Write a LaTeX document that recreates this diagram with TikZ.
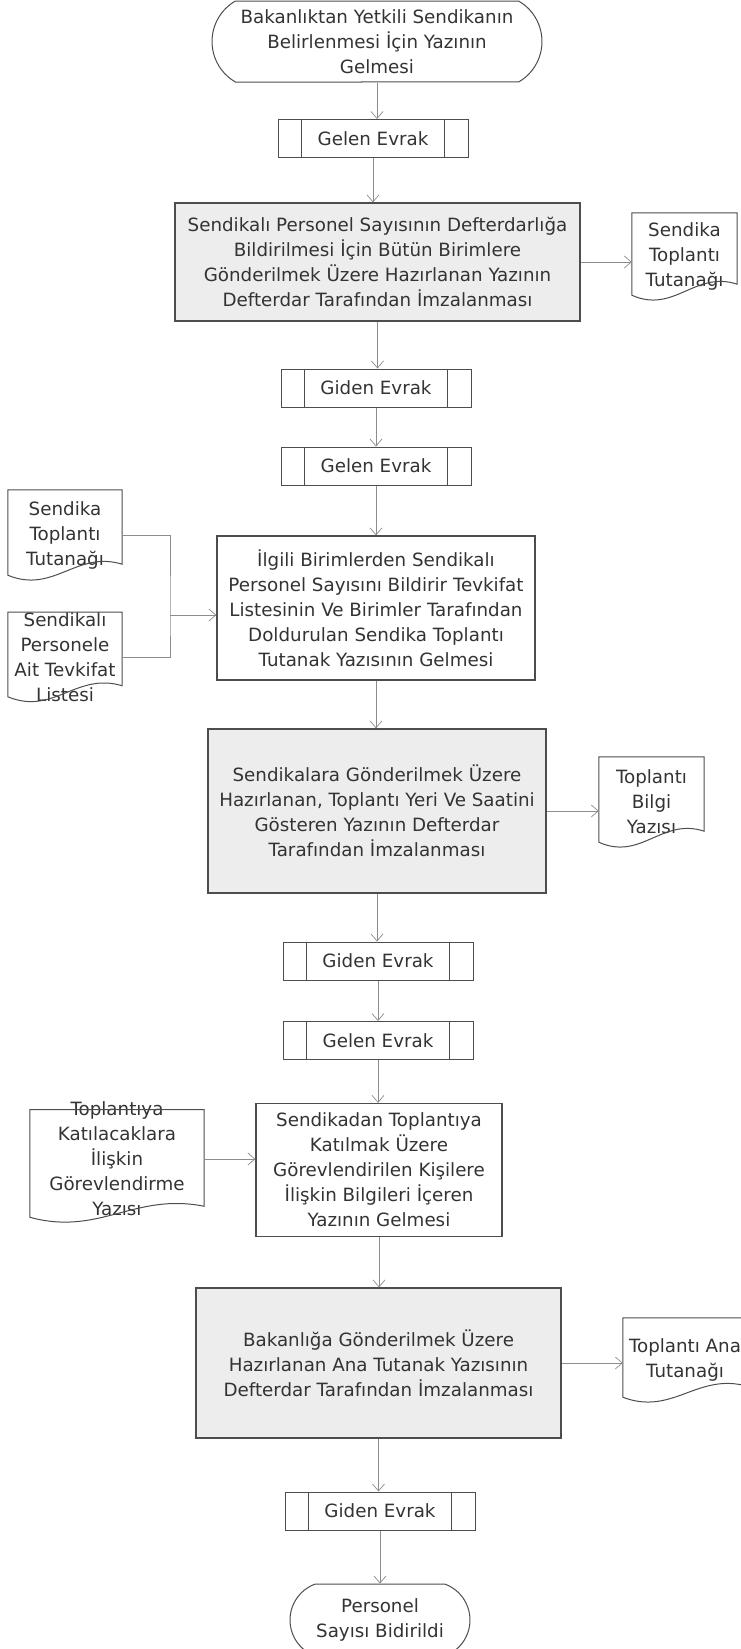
\documentclass[tikz,border=0pt]{standalone}
\usepackage{fontspec}
\setmainfont{DejaVu Sans}
\usetikzlibrary{arrows.meta}
\usetikzlibrary{shapes.misc}
\usetikzlibrary{calc}
\definecolor{boxgray}{HTML}{EDEDED}
\definecolor{edgegray}{HTML}{4D4D4D}
\definecolor{arrgray}{HTML}{8C8C8C}
\definecolor{txtgray}{HTML}{333333}

% belge: dalgali alt kenar
\newcommand{\docedge}[2]{%
  \draw[docline] (#1.north west) -- ($(#1.south west)+(0,#2-5)$)
    .. controls ($(#1.south west)!0.4!(#1.south east)+(0,#2+14)$)
    and ($(#1.south west)!0.6!(#1.south east)+(0,#2-30)$)
    .. ($(#1.south east)+(0,#2-16)$) -- (#1.north east) -- cycle;}
% evrak kutusunun ic cizgileri
\newcommand{\evraklines}[1]{%
  \draw[docline] ([xshift=24pt]#1.north west) -- ([xshift=24pt]#1.south west);
  \draw[docline] ([xshift=-24pt]#1.north east) -- ([xshift=-24pt]#1.south east);}

\begin{document}
\begin{tikzpicture}[x=1pt, y=-1pt,
    every node/.style = {font=\fontsize{18.27}{25}\selectfont},
    proc/.style = {draw=edgegray, line width=1.2pt, align=center, text=txtgray},
    grayproc/.style = {proc, fill=boxgray},
    evrak/.style = {draw=edgegray, line width=1pt, minimum width=190pt, minimum height=38pt, text=txtgray},
    term/.style = {draw=edgegray, line width=1pt, rounded rectangle, inner xsep=0pt, align=center, text=txtgray},
    docbox/.style = {align=center, text=txtgray, inner xsep=0pt},
    docline/.style = {draw=edgegray, line width=1pt},
    link/.style = {draw=arrgray, line width=0.7pt},
    arr/.style = {link, -{Straight Barb[length=7pt,width=12pt]}}]
  \useasboundingbox (0,0) rectangle (741,1649);

  % basla / bitir
  \node[term, minimum width=330pt, minimum height=81pt, rounded rectangle arc length=120] (t1) at (377,41.5) {Bakanlıktan Yetkili Sendikanın\\Belirlenmesi İçin Yazının\\Gelmesi};
  \node[term, minimum width=180pt, minimum height=72pt, rounded rectangle arc length=140] (t2) at (380,1620) {Personel\\Sayısı Bidirildi};

  % islemler
  \node[grayproc, minimum width=405pt, minimum height=118pt] (b2) at (377.5,262) {Sendikalı Personel Sayısının Defterdarlığa\\Bildirilmesi İçin Bütün Birimlere\\Gönderilmek Üzere Hazırlanan Yazının\\Defterdar Tarafından İmzalanması};
  \node[proc, minimum width=318pt, minimum height=144pt] (b3) at (376,608) {İlgili Birimlerden Sendikalı\\Personel Sayısını Bildirir Tevkifat\\Listesinin Ve Birimler Tarafından\\Doldurulan Sendika Toplantı\\Tutanak Yazısının Gelmesi};
  \node[grayproc, minimum width=338pt, minimum height=164pt] (b4) at (377,811) {Sendikalara Gönderilmek Üzere\\Hazırlanan, Toplantı Yeri Ve Saatini\\Gösteren Yazının Defterdar\\Tarafından İmzalanması};
  \node[proc, minimum width=246pt, minimum height=133pt] (b5) at (379,1170) {Sendikadan Toplantıya\\Katılmak Üzere\\Görevlendirilen Kişilere\\İlişkin Bilgileri İçeren\\Yazının Gelmesi};
  \node[grayproc, minimum width=365pt, minimum height=150pt] (b6) at (378.5,1363) {Bakanlığa Gönderilmek Üzere\\Hazırlanan Ana Tutanak Yazısının\\Defterdar Tarafından İmzalanması};

  % gelen / giden evrak
  \node[evrak] (g1) at (373,138.5) {Gelen Evrak};
  \node[evrak] (g2) at (376,388) {Giden Evrak};
  \node[evrak] (g3) at (376,466) {Gelen Evrak};
  \node[evrak] (g4) at (378,961) {Giden Evrak};
  \node[evrak] (g5) at (378,1040.5) {Gelen Evrak};
  \node[evrak] (g6) at (380,1511) {Giden Evrak};
  \evraklines{g1} \evraklines{g2} \evraklines{g3}
  \evraklines{g4} \evraklines{g5} \evraklines{g6}

  % belgeler
  \node[docbox, minimum width=105pt, minimum height=87pt] (dR1) at (684.5,256.5) {Sendika\\Toplantı\\Tutanağı};
  \node[docbox, minimum width=114pt, minimum height=90pt] (dA) at (65,535) {Sendika\\Toplantı\\Tutanağı};
  \node[docbox, minimum width=114pt, inner ysep=0pt] (dB) at (65,657) {Sendikalı\\Personele\\Ait Tevkifat\\Listesi};
  \node[docbox, minimum width=105pt, minimum height=90pt] (dR2) at (651.5,802) {Toplantı\\Bilgi\\Yazısı};
  \node[docbox, minimum width=174pt, inner ysep=-8pt] (dC) at (117,1159) {Toplantıya\\Katılacaklara\\İlişkin\\Görevlendirme\\Yazısı};
  \node[docbox, minimum width=124pt, minimum height=84pt] (dD) at (685,1360) {Toplantı Ana\\Tutanağı};
  \docedge{dR1}{0} \docedge{dA}{0} \docedge{dB}{0}
  \docedge{dR2}{0} \docedge{dC}{14} \docedge{dD}{0}

  % baglantilar
  \draw[arr] (t1.south) -- (t1.south |- g1.north);
  \draw[arr] (g1.south) -- (g1.south |- b2.north);
  \draw[arr] (b2.east) -- (b2.east -| dR1.west);
  \draw[arr] (b2.south) -- (b2.south |- g2.north);
  \draw[arr] (g2.south) -- (g2.south |- g3.north);
  \draw[arr] (g3.south) -- (g3.south |- b3.north);
  \coordinate (jA) at (170,615);
  \draw[link] (dA.east) -| (jA) |- (dB.east);
  \draw[arr] (jA) -- (jA -| b3.west);
  \draw[arr] (b3.south) -- (b3.south |- b4.north);
  \draw[arr] (b4.east) -- (b4.east -| dR2.west);
  \draw[arr] (b4.south) -- (b4.south |- g4.north);
  \draw[arr] (g4.south) -- (g4.south |- g5.north);
  \draw[arr] (g5.south) -- (g5.south |- b5.north);
  \draw[arr] (dC.east) -- (dC.east -| b5.west);
  \draw[arr] (b5.south) -- (b5.south |- b6.north);
  \draw[arr] (b6.east) -- (b6.east -| dD.west);
  \draw[arr] (b6.south) -- (b6.south |- g6.north);
  \draw[arr] (g6.south) -- (g6.south |- t2.north);
\end{tikzpicture}
\end{document}
